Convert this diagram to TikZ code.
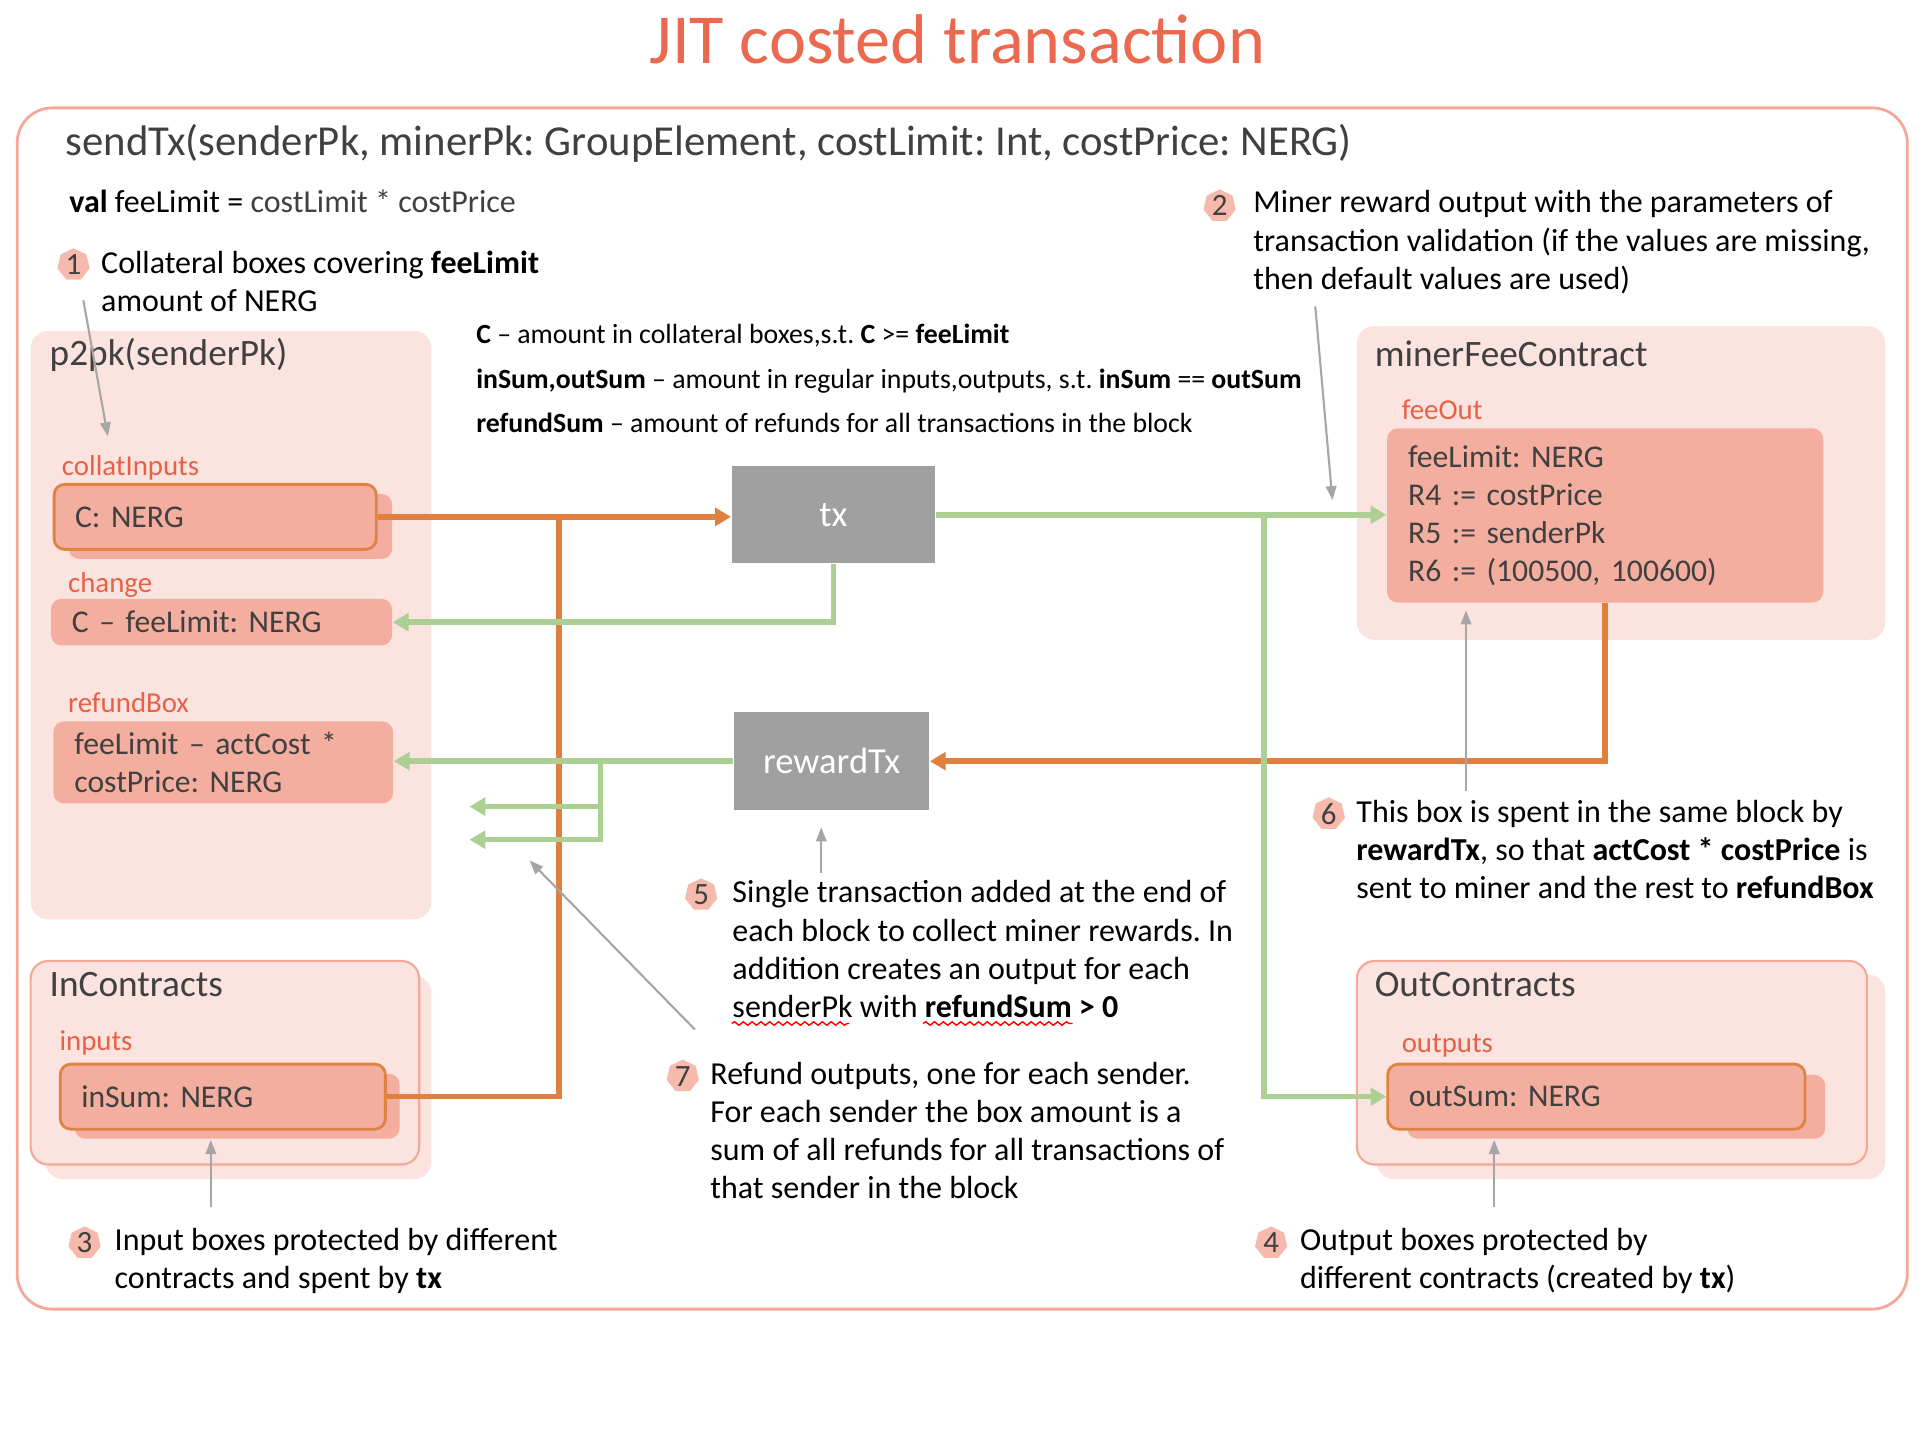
\documentclass[tikz,border=0pt]{standalone}
\usepackage{fontspec}
\setmainfont{Carlito}
\frenchspacing
\usetikzlibrary{positioning, arrows.meta, shapes.geometric, decorations.pathmorphing}

\tikzset{
  txt/.style={inner sep=0pt, anchor=base west},
  note/.style={txt, align=left, font=\fontsize{9.1}{10.85}\selectfont},
  legend/.style={txt, font=\fontsize{7.9}{9.5}\selectfont},
  boxlabel/.style={txt, text=labelred, font=\fontsize{8.2}{10}\selectfont},
  contracttitle/.style={txt, text=darktext, font=\fontsize{10.6}{13}\selectfont},
  badge/.style={regular polygon, regular polygon sides=7, fill=badgepink, inner sep=0pt, minimum size=0.33cm, text=darktext, font=\fontsize{8.8}{10}\selectfont},
  valbox/.style={fill=boxsalmon, rounded corners=3pt, anchor=north west, inner xsep=0.21cm, inner ysep=0pt, align=left, text=darktext, font=\fontsize{9}{10.8}\selectfont},
  inbox/.style={valbox, draw=borderorange, line width=0.8pt},
  shadowbox/.style={fill=boxsalmon, rounded corners=3pt},
  contract/.style={fill=contractpink, rounded corners=5pt},
  txbox/.style={fill=txgray, text=white, font=\fontsize{10.4}{12}\selectfont},
  orangeline/.style={draw=floworange, line width=1.6pt},
  orangeflow/.style={orangeline, -{Triangle[length=4.5pt,width=5pt]}},
  greenline/.style={draw=flowgreen, line width=1.6pt},
  greenflow/.style={greenline, -{Triangle[length=4.5pt,width=5pt]}},
  pointer/.style={draw=pointergray, line width=0.6pt, -{Triangle[length=4pt,width=3pt]}},
  squiggle/.style={draw=red, line width=0.4pt, decorate, decoration={snake, amplitude=0.5pt, segment length=2.5pt}}
}

\begin{document}
\begin{tikzpicture}[x=0.012258cm, y=-0.012258cm]

% Define colors
\definecolor{titlered}{RGB}{235,105,78}
\definecolor{labelred}{RGB}{232,96,70}
\definecolor{framered}{RGB}{243,168,152}
\definecolor{contractpink}{RGB}{251,228,223}
\definecolor{boxsalmon}{RGB}{244,174,159}
\definecolor{borderorange}{RGB}{224,130,66}
\definecolor{floworange}{RGB}{225,127,62}
\definecolor{flowgreen}{RGB}{172,208,148}
\definecolor{txgray}{RGB}{160,160,160}
\definecolor{pointergray}{RGB}{166,166,166}
\definecolor{badgepink}{RGB}{246,186,172}
\definecolor{darktext}{RGB}{64,64,64}

\fill[white] (0,0) rectangle (1568,1176);
\useasboundingbox (0,0) rectangle (1568,1176);

% Title and frame
\node[text=titlered, font=\fontsize{20}{24}\selectfont] (title) at (781,32) {JIT costed transaction};
\draw[draw=framered, line width=0.8pt, rounded corners=10pt] (14,88) rectangle (1556,1068);

\node[txt, text=darktext, font=\fontsize{12.15}{14}\selectfont] (signature) at (53,127)
  {sendTx(senderPk, minerPk: GroupElement, costLimit: Int, costPrice: NERG)};
\node[txt, font=\fontsize{9.1}{11}\selectfont] (feelimit) at (56,173)
  {\textbf{val} feeLimit = \textcolor{darktext}{costLimit * costPrice}};

% Legend
\node[legend] (legendC) at (388,280) {\textbf{C} -- amount in collateral boxes,s.t. \textbf{C} >= \textbf{feeLimit}};
\node[legend] (legendSum) at (388,317) {\textbf{inSum,outSum} -- amount in regular inputs,outputs, s.t. \textbf{inSum} == \textbf{outSum}};
\node[legend] (legendRefund) at (388,353) {\textbf{refundSum} -- amount of refunds for all transactions in the block};

% Contract areas
\fill[contract] (25,270) rectangle (352,750);
\fill[contract] (1107,266) rectangle (1538,522);
\fill[contract] (37,796) rectangle (352,962);
\filldraw[contract, draw=framered, line width=0.6pt] (25,784) rectangle (342,950);
\fill[contract] (1123,795) rectangle (1538,962);
\filldraw[contract, draw=framered, line width=0.6pt] (1107,784) rectangle (1523,950);

\node[contracttitle] (p2pk) at (40,298) {p2pk(senderPk)};
\node[contracttitle] (minerfee) at (1121,299) {minerFeeContract};
\node[contracttitle] (incontracts) at (40,813) {InContracts};
\node[contracttitle] (outcontracts) at (1121,813) {OutContracts};

% Box labels
\node[boxlabel] (collatlabel) at (50,388) {collatInputs};
\node[boxlabel] (changelabel) at (55,483) {change};
\node[boxlabel] (refundlabel) at (55,581) {refundBox};
\node[boxlabel] (feeoutlabel) at (1143,342) {feeOut};
\node[boxlabel] (inputslabel) at (48,857) {inputs};
\node[boxlabel] (outputslabel) at (1143,859) {outputs};

% Boxes
\fill[shadowbox] (56,403) rectangle (320,456);
\node[inbox, text width=2.80cm, minimum height=0.65cm] (collat) at (43,394) {C: NERG};
\node[valbox, text width=2.99cm, minimum height=0.466cm] (change) at (41,488) {C -- feeLimit: NERG};
\node[valbox, text width=2.975cm, minimum height=0.82cm] (refund) at (43,588) {feeLimit -- actCost *\\costPrice: NERG};
\node[valbox, text width=3.94cm, minimum height=1.74cm] (feeout) at (1131,349)
  {feeLimit: NERG\\R4 := costPrice\\R5 := senderPk\\R6 := (100500, 100600)};
\fill[shadowbox] (61,876) rectangle (326,929);
\node[inbox, text width=2.83cm, minimum height=0.65cm] (insum) at (48,867) {inSum: NERG};
\fill[shadowbox] (1148,877) rectangle (1489,929);
\node[inbox, text width=3.75cm, minimum height=0.65cm] (outsum) at (1131,867) {outSum: NERG};

% Transactions
\node[txbox, minimum width=2.035cm, minimum height=0.968cm] (tx) at (680,420) {tx};
\node[txbox, minimum width=1.949cm, minimum height=0.981cm] (rewardtx) at (678.5,621) {rewardTx};

% Flows
\coordinate (tap) at (456,420.5);
\coordinate (fork) at (1031,420);
\coordinate (split) at (490,621);
\coordinate (refundA) at (383,658);
\coordinate (refundB) at (383,685);

\draw[orangeflow] (collat.east) -- (collat.east -| tx.west);
\draw[orangeline] (insum.east) -| (tap);
\draw[orangeflow] (feeout.south) |- (rewardtx.east);

\draw[greenflow] (tx.east) -- (tx.east -| feeout.west);
\draw[greenflow] (fork) |- (outsum.west);
\draw[greenflow] (tx.south) |- (change.east);
\draw[greenflow] (rewardtx.west) -- (rewardtx.west -| refund.east);
\draw[greenflow] (split) |- (refundA);
\draw[greenflow] (split) |- (refundB);

% Notes (anchored at the baseline of their last line)
\node[badge] (badge1) at (60,216) {1};
\node[note] (note1) at (82,254) {Collateral boxes covering \textbf{feeLimit}\\amount of NERG};
\node[badge] (badge2) at (995,168) {2};
\node[note] (note2) at (1022,236) {Miner reward output with the parameters of\\transaction validation (if the values are missing,\\then default values are used)};
\node[badge] (badge3) at (69,1014) {3};
\node[note] (note3) at (93,1051) {Input boxes protected by different\\contracts and spent by \textbf{tx}};
\node[badge] (badge4) at (1037,1014) {4};
\node[note] (note4) at (1060,1051) {Output boxes protected by\\different contracts (created by \textbf{tx})};
\node[badge] (badge5) at (572,730) {5};
\node[note] (note5) at (597,830) {Single transaction added at the end of\\each block to collect miner rewards. In\\addition creates an output for each\\senderPk with \textbf{refundSum > 0}};
\node[badge] (badge6) at (1084,664) {6};
\node[note] (note6) at (1106,733) {This box is spent in the same block by\\\textbf{rewardTx}, so that \textbf{actCost * costPrice} is\\sent to miner and the rest to \textbf{refundBox}};
\node[badge] (badge7) at (557,878) {7};
\node[note] (note7) at (579,978) {Refund outputs, one for each sender.\\For each sender the box amount is a\\sum of all refunds for all transactions of\\that sender in the block};

% Spelling marks
\draw[squiggle] (597,835) -- (693,835);
\draw[squiggle] (753,835) -- (875,835);

% Pointers
\coordinate (note1tail) at (68,245);
\coordinate (note1head) at (88,356);
\coordinate (note2tail) at (1073,250);
\coordinate (note2head) at (1087,408);
\coordinate (note3tail) at (172,985);
\coordinate (note3head) at (172,930);
\coordinate (note4tail) at (1219,985);
\coordinate (note4head) at (1219,930);
\coordinate (note5tail) at (670,712);
\coordinate (note5head) at (670,675);
\coordinate (note6tail) at (1196,645);
\coordinate (note6head) at (1196,498);
\coordinate (note7tail) at (567,840);
\coordinate (note7head) at (432,702);

\draw[pointer] (note1tail) -- (note1head);
\draw[pointer] (note2tail) -- (note2head);
\draw[pointer] (note3tail) -- (note3head);
\draw[pointer] (note4tail) -- (note4head);
\draw[pointer] (note5tail) -- (note5head);
\draw[pointer] (note6tail) -- (note6head);
\draw[pointer] (note7tail) -- (note7head);

\end{tikzpicture}
\end{document}
